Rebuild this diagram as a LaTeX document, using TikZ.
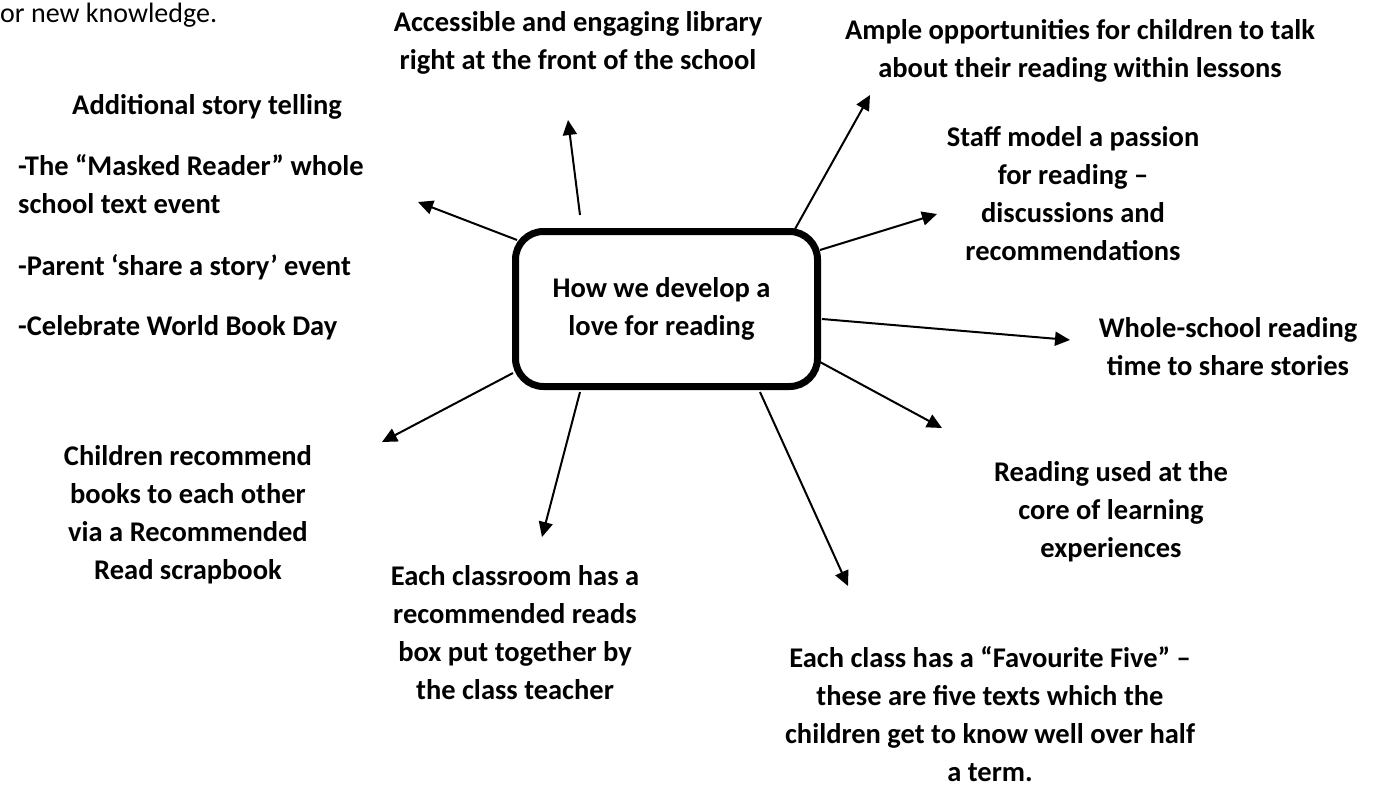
\documentclass[tikz,border=0pt]{standalone}
\usepackage{fontspec}
\setmainfont{Carlito}
\usetikzlibrary{arrows.meta}
\newcommand{\mlc}[1]{\begin{tabular}[t]{@{}c@{}}#1\end{tabular}}
\newcommand{\mll}[1]{\begin{tabular}[t]{@{}l@{}}#1\end{tabular}}
\tikzset{
  txt/.style={font=\fontsize{28.5}{38}\selectfont\bfseries, inner sep=0pt, anchor=base},
  txtl/.style={txt, anchor=base west},
  arr/.style={line width=2pt, -{Triangle[length=15pt,width=14pt]}},
  hub/.style={draw, line width=7pt, rounded corners=28pt, minimum width=302pt,
    minimum height=155pt, align=center, inner sep=0pt,
    font=\fontsize{28.5}{38}\selectfont\bfseries}
}
\begin{document}
\begin{tikzpicture}[x=1pt,y=-1pt]
\useasboundingbox (0,0) rectangle (1375,787);
% central box
\node[hub] (c) at (666.5,309) {How we develop a\hspace*{10pt}\\love for reading\hspace*{10pt}};
% texts
\node[txtl, font=\fontsize{28}{34}\selectfont] (prev) at (0,23) {or new knowledge.};
\node[txt] (lib) at (578,31) {\mlc{Accessible and engaging library\\right at the front of the school}};
\node[txt] (add) at (207,114) {Additional story telling};
\node[txtl] (mask) at (18,175) {\mll{-The “Masked Reader” whole\\school text event}};
\node[txtl] (par) at (18,275) {-Parent ‘share a story’ event};
\node[txtl] (wbd) at (18,335) {-Celebrate World Book Day};
\node[txt] (ample) at (1080,39) {\mlc{Ample opportunities for children to talk\\about their reading within lessons}};
\node[txt] (staff) at (1073,146) {\mlc{Staff model a passion\\for reading –\\discussions and\\recommendations}};
\node[txt] (whole) at (1228,337) {\mlc{Whole-school reading\\time to share stories}};
\node[txt] (core) at (1111,481) {\mlc{Reading used at the\\core of learning\\experiences}};
\node[txt] (fav) at (990,667) {\mlc{Each class has a “Favourite Five” –\\these are five texts which the\\children get to know well over half\\a term.}};
\node[txt] (box) at (515,585) {\mlc{Each classroom has a\\recommended reads\\box put together by\\the class teacher}};
\node[txt] (rec) at (188,465) {\mlc{Children recommend\\books to each other\\via a Recommended\\Read scrapbook}};
% arrow end points
\coordinate (s1) at (580,215);  \coordinate (t1) at (568,120);
\coordinate (s2) at (795,229);  \coordinate (t2) at (870,95);
\coordinate (s3) at (820,250);  \coordinate (t3) at (937,214);
\coordinate (s4) at (822,319);  \coordinate (t4) at (1070,340);
\coordinate (s5) at (820,362);  \coordinate (t5) at (942,428);
\coordinate (s6) at (760,392);  \coordinate (t6) at (848,586);
\coordinate (s7) at (580,392);  \coordinate (t7) at (542,537);
\coordinate (s8) at (513,373);  \coordinate (t8) at (382,442);
\coordinate (s9) at (517,240);  \coordinate (t9) at (418,202);
\foreach \i in {1,...,9} { \draw[arr] (s\i) -- (t\i); }
\end{tikzpicture}
\end{document}
